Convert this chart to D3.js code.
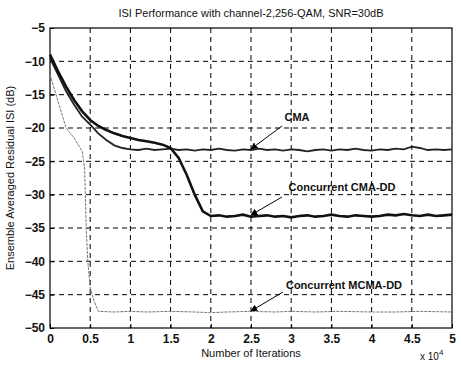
<!DOCTYPE html>
<html>
<head>
<meta charset="utf-8">
<script src="https://cdn.jsdelivr.net/npm/d3@7"></script>
<style>
  body { margin: 0; background: #fff; }
  text { font-family: "Liberation Sans", Arial, sans-serif; fill: #111; }
</style>
</head>
<body>
<div id="chart"></div>
<script>
// iterations (x 10^4), step 0.1
const iterations = d3.range(51).map(i => +(i * 0.1).toFixed(1));

const cma = [
  -9.5, -12.0, -14.5, -16.5, -18.3, -19.5, -20.8, -21.8, -22.6, -23.0,
  -23.2, -23.3, -23.1, -23.3, -23.2, -23.1, -23.3, -23.2, -23.4, -23.2,
  -23.3, -23.1, -23.3, -23.4, -23.2, -23.3, -23.1, -23.3, -23.2, -23.4,
  -23.2, -23.3, -23.5, -23.3, -23.2, -23.4, -23.2, -23.3, -23.1, -23.3,
  -23.4, -23.2, -23.3, -23.1, -23.2, -22.8, -23.0, -23.3, -23.2, -23.3, -23.2
];

const cmaDD = [
  -9.0, -11.5, -13.8, -15.8, -17.5, -18.8, -19.7, -20.3, -20.8, -21.2,
  -21.5, -21.8, -22.0, -22.2, -22.5, -23.0, -24.5, -27.0, -30.0, -32.5,
  -33.2, -33.1, -33.3, -33.2, -33.0, -33.3, -33.2, -33.1, -33.3, -33.2,
  -33.4, -33.2, -33.1, -33.3, -33.2, -33.0, -33.2, -33.3, -33.1, -33.2,
  -33.3, -33.2, -33.0, -33.1, -32.9, -33.1, -33.2, -33.0, -33.2, -33.1, -33.0
];

// MCMA-DD has a sharp drop near 0.45, so it keeps its own x values
const mcmaX = [0, 0.1, 0.2, 0.3, 0.4, 0.43, 0.44, 0.45, 0.47, 0.5, 0.55, 0.6,
  0.8, 1.0, 1.2, 1.5, 1.8, 2.0, 2.2, 2.5, 2.8, 3.0, 3.3, 3.6, 4.0, 4.3, 4.6, 5.0];
const mcmaDD = [-12.0, -16.0, -20.0, -21.5, -23.5, -26.0, -30.0, -35.0, -40.0, -44.0, -46.0, -47.5,
  -47.6, -47.5, -47.6, -47.5, -47.6, -47.7, -47.6, -47.5, -47.6, -47.5, -47.6, -47.5, -47.6, -47.6, -47.5, -47.6];

const xTicks = [0, 0.5, 1, 1.5, 2, 2.5, 3, 3.5, 4, 4.5, 5];
const yTicks = [-5, -10, -15, -20, -25, -30, -35, -40, -45, -50];

const width = 462, height = 365;
const margin = { top: 28, right: 10, bottom: 37, left: 50 };

const svg = d3.select("#chart").append("svg")
  .attr("width", width).attr("height", height);

const x = d3.scaleLinear().domain([0, 5]).range([margin.left, width - margin.right]);
const y = d3.scaleLinear().domain([-50, -5]).range([height - margin.bottom, margin.top]);

// grid
svg.append("g").selectAll("line").data(xTicks.slice(1, -1)).join("line")
  .attr("x1", d => x(d)).attr("x2", d => x(d))
  .attr("y1", y(-5)).attr("y2", y(-50))
  .attr("stroke", "#000").attr("stroke-width", 1).attr("stroke-dasharray", "5,4");
svg.append("g").selectAll("line").data(yTicks.slice(1, -1)).join("line")
  .attr("y1", d => y(d)).attr("y2", d => y(d))
  .attr("x1", x(0)).attr("x2", x(5))
  .attr("stroke", "#000").attr("stroke-width", 1).attr("stroke-dasharray", "5,4");

// axes
svg.append("g").attr("transform", `translate(0,${y(-50)})`)
  .call(d3.axisBottom(x).tickValues(xTicks).tickSize(-4).tickPadding(6).tickFormat(d3.format("")))
  .call(g => g.select(".domain").remove())
  .call(g => g.selectAll("text").style("font-size", "12px").style("font-weight", "bold"));
svg.append("g").attr("transform", `translate(${x(0)},0)`)
  .call(d3.axisLeft(y).tickValues(yTicks).tickSize(-4).tickPadding(5))
  .call(g => g.select(".domain").remove())
  .call(g => g.selectAll("text").style("font-size", "12px").style("font-weight", "bold"));

svg.append("rect")
  .attr("x", x(0)).attr("y", y(-5))
  .attr("width", x(5) - x(0)).attr("height", y(-50) - y(-5))
  .attr("fill", "none").attr("stroke", "#000").attr("stroke-width", 1.2);

// lines
const line = d3.line().x(d => x(d[0])).y(d => y(d[1]));
svg.append("path").datum(iterations.map((t, i) => [t, cma[i]]))
  .attr("d", line).attr("fill", "none").attr("stroke", "#222").attr("stroke-width", 1.8);
svg.append("path").datum(iterations.map((t, i) => [t, cmaDD[i]]))
  .attr("d", line).attr("fill", "none").attr("stroke", "#111").attr("stroke-width", 2.6);
svg.append("path").datum(mcmaX.map((t, i) => [t, mcmaDD[i]]))
  .attr("d", line).attr("fill", "none").attr("stroke", "#777").attr("stroke-width", 1)
  .attr("stroke-dasharray", "3,1");

// annotations
svg.append("defs").append("marker")
  .attr("id", "arrow").attr("viewBox", "0 0 10 10").attr("refX", 9).attr("refY", 5)
  .attr("markerWidth", 7).attr("markerHeight", 7).attr("orient", "auto")
  .append("path").attr("d", "M0,0L10,5L0,10z").attr("fill", "#000");

const notes = [
  { label: "CMA", tx: 297, ty: 121, ax: 2.5, ay: -23.3, fx: 282, fy: 126 },
  { label: "Concurrent CMA-DD", tx: 342, ty: 191, ax: 2.5, ay: -33.2, fx: 282, fy: 197 },
  { label: "Concurrent MCMA-DD", tx: 344, ty: 289, ax: 2.5, ay: -47.6, fx: 283, fy: 292 }
];
notes.forEach(n => {
  svg.append("text").attr("x", n.tx).attr("y", n.ty).attr("text-anchor", "middle")
    .style("font-size", "11px").style("font-weight", "bold").text(n.label);
  svg.append("line").attr("x1", n.fx).attr("y1", n.fy)
    .attr("x2", x(n.ax)).attr("y2", y(n.ay) - 1)
    .attr("stroke", "#000").attr("stroke-width", 1).attr("marker-end", "url(#arrow)");
});

// titles
svg.append("text").attr("x", 251).attr("y", 17).attr("text-anchor", "middle")
  .style("font-size", "11px").text("ISI Performance with channel-2,256-QAM, SNR=30dB");
svg.append("text").attr("x", 251).attr("y", 357).attr("text-anchor", "middle")
  .style("font-size", "11px").text("Number of Iterations");
svg.append("text").attr("transform", `translate(14,${y(-27.5)}) rotate(-90)`)
  .attr("text-anchor", "middle").style("font-size", "11px")
  .text("Ensemble Averaged Residual ISI (dB)");
const exp = svg.append("text").attr("x", 420).attr("y", 360).style("font-size", "10px");
exp.append("tspan").text("x 10");
exp.append("tspan").attr("dy", -5).style("font-size", "8px").text("4");
</script>
</body>
</html>
